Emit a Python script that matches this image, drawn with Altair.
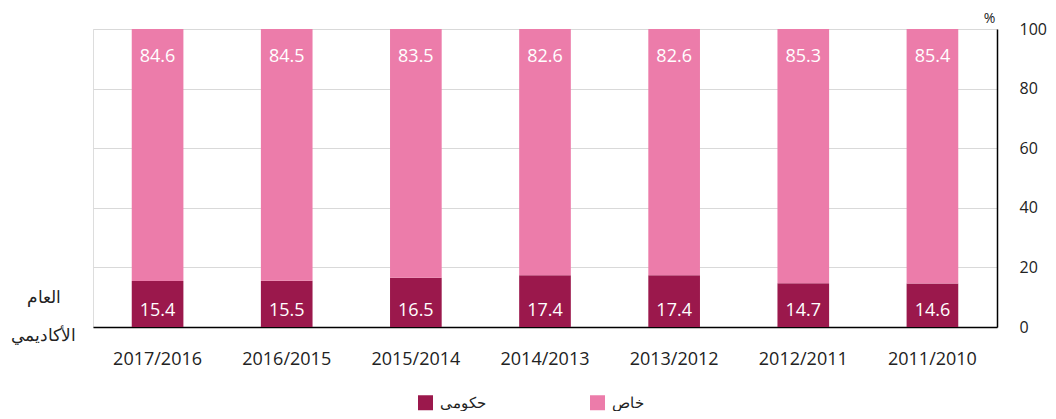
import altair as alt
import pandas as pd

years = ["2017/2016", "2016/2015", "2015/2014", "2014/2013", "2013/2012", "2012/2011", "2011/2010"]
gov = [15.4, 15.5, 16.5, 17.4, 17.4, 14.7, 14.6]
priv = [84.6, 84.5, 83.5, 82.6, 82.6, 85.3, 85.4]
types = ["حكومي", "خاص"]
colors = ["#9B184C", "#EC7CAA"]
yticks = [0, 20, 40, 60, 80, 100]

rows = []
for i, y in enumerate(years):
    rows.append({"year": y, "type": types[0], "value": gov[i], "ord": 0})
    rows.append({"year": y, "type": types[1], "value": priv[i], "ord": 1})
df = pd.DataFrame(rows)

FONT = "Open Sans"

xenc = alt.X("year:N", sort=years,
             scale=alt.Scale(paddingInner=0.6, paddingOuter=0.3),
             axis=alt.Axis(title=["العام", "الأكاديمي"], labelAngle=0, ticks=False,
                           domainColor="#000000", domainWidth=1.5,
                           labelFontSize=18, labelColor="#222222", labelPadding=23,
                           labelFont=FONT,
                           titleFontSize=17, titleFontWeight="normal", titleColor="#222222",
                           titleX=-50, titleY=-30, titleAlign="center", titleBaseline="middle",
                           titleLineHeight=38, titleAnchor=None))

bars = alt.Chart(df).mark_bar().encode(
    x=xenc,
    y=alt.Y("value:Q", stack="zero",
            scale=alt.Scale(domain=[0, 100], nice=False),
            axis=alt.Axis(orient="right", values=yticks, ticks=False,
                          domainColor="#000000", domainWidth=1.5,
                          gridColor="#d9d9d9", gridWidth=1.2,
                          labelFontSize=16, labelColor="#222222", labelPadding=22,
                          labelFont=FONT,
                          title="%", titleAngle=0, titleFontSize=14, titleFontWeight="normal",
                          titleColor="#222222", titleX=-8, titleY=-11,
                          titleAlign="center", titleBaseline="middle")),
    color=alt.Color("type:N", scale=alt.Scale(domain=types, range=colors),
                    legend=alt.Legend(title=None, orient="none", direction="horizontal",
                                      legendX=325, legendY=366, symbolType="square",
                                      symbolSize=225, symbolStrokeWidth=0,
                                      labelFontSize=15, labelColor="#222222",
                                      labelOffset=7, columnPadding=104, padding=0)),
    order=alt.Order("ord:Q")
)

gov_text = alt.Chart(df).transform_filter(
    alt.datum.ord == 0
).transform_calculate(pos="0").mark_text(
    color="white", fontSize=18, font=FONT, baseline="middle", dy=-16
).encode(
    x=alt.X("year:N", sort=years),
    y=alt.Y("pos:Q"),
    text=alt.Text("value:Q", format=".1f")
)

priv_text = alt.Chart(df).transform_filter(
    alt.datum.ord == 1
).transform_calculate(pos="100").mark_text(
    color="white", fontSize=18, font=FONT, baseline="middle", dy=28
).encode(
    x=alt.X("year:N", sort=years),
    y=alt.Y("pos:Q"),
    text=alt.Text("value:Q", format=".1f")
)

chart = alt.layer(bars, gov_text, priv_text).properties(
    width=904, height=298,
    autosize=alt.AutoSizeParams(type="none"),
    padding={"left": 85, "top": 21, "right": 51, "bottom": 84}
).configure_view(stroke=None).configure(font=FONT)

chart.save("out.html", embed_options={"renderer": "svg", "actions": False})
